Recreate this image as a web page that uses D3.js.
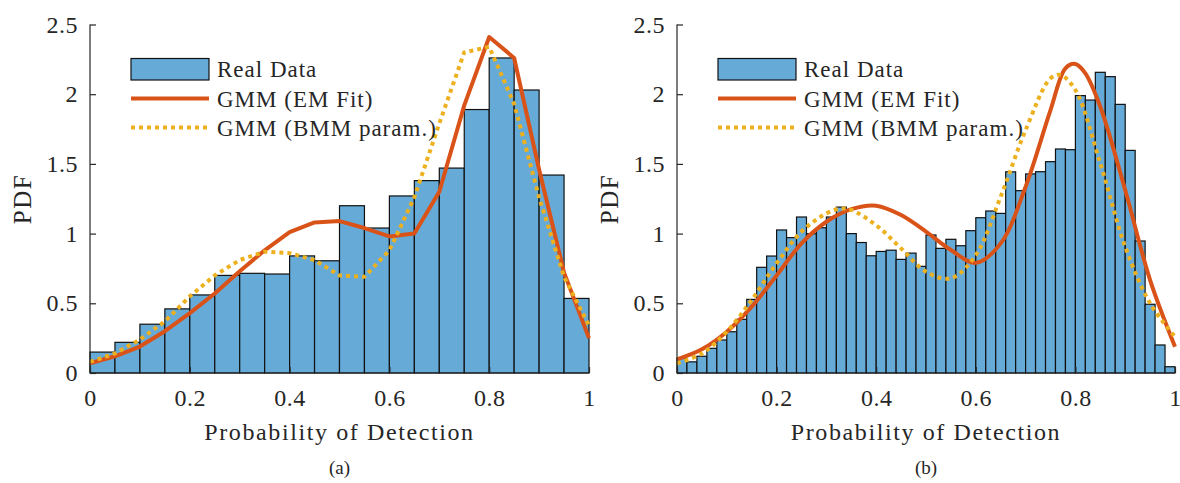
<!DOCTYPE html>
<html>
<head>
<meta charset="utf-8">
<script src="https://cdn.jsdelivr.net/npm/d3@7"></script>
<style>
  html, body { margin: 0; padding: 0; background: #fff; }
  svg text { font-family: "Liberation Serif", serif; fill: #262626; }
</style>
</head>
<body>
<svg id="chart" width="1180" height="483"></svg>
<script>
// ---------- data ----------
const yTicks = [0, 0.5, 1, 1.5, 2, 2.5];
const xTicks = [0, 0.2, 0.4, 0.6, 0.8, 1];
const legendLabels = ["Real Data", "GMM (EM Fit)", "GMM (BMM param.)"];
const xTitle = "Probability of Detection";
const yTitle = "PDF";
const panelLabels = ["(a)", "(b)"];

// panel (a): 20 bins of width 0.05
const histA = [0.15, 0.22, 0.35, 0.46, 0.56, 0.70, 0.715, 0.71, 0.84, 0.805,
               1.20, 1.04, 1.27, 1.38, 1.47, 1.89, 2.26, 2.03, 1.42, 0.535];
const emXA  = [0, 0.05, 0.1, 0.15, 0.2, 0.25, 0.3, 0.35, 0.4, 0.45, 0.5, 0.55, 0.6, 0.65, 0.7, 0.75, 0.8, 0.85, 0.9, 0.95, 1];
const emYA  = [0.07, 0.12, 0.19, 0.30, 0.43, 0.57, 0.73, 0.88, 1.01, 1.08, 1.09, 1.04, 0.98, 1.00, 1.30, 1.92, 2.41, 2.26, 1.46, 0.72, 0.25];
const bmmXA = [0, 0.05, 0.1, 0.15, 0.2, 0.25, 0.3, 0.35, 0.4, 0.45, 0.5, 0.55, 0.6, 0.65, 0.7, 0.75, 0.8, 0.85, 0.9, 0.95, 1];
const bmmYA = [0.08, 0.14, 0.24, 0.37, 0.55, 0.70, 0.81, 0.87, 0.86, 0.81, 0.70, 0.69, 0.88, 1.26, 1.79, 2.30, 2.34, 1.93, 1.26, 0.69, 0.34];

// panel (b): 50 bins of width 0.02
const histB = [0.105, 0.08, 0.12, 0.177, 0.237, 0.296, 0.385, 0.528, 0.758, 0.839,
               1.026, 0.971, 1.119, 0.999, 1.042, 1.119, 1.19, 1.0, 0.936, 0.841,
               0.872, 0.881, 0.815, 0.86, 0.765, 0.99, 0.894, 0.959, 0.913, 1.021,
               1.114, 1.162, 1.145, 1.443, 1.308, 1.428, 1.444, 1.516, 1.607, 1.602,
               1.99, 1.958, 2.157, 2.126, 1.927, 1.597, 0.947, 0.493, 0.201, 0.045];
const emXB  = [0, 0.05, 0.1, 0.15, 0.2, 0.25, 0.3, 0.35, 0.4, 0.45, 0.5, 0.55, 0.6, 0.65, 0.7, 0.75, 0.78, 0.8, 0.82, 0.85, 0.9, 0.95, 1];
const emYB  = [0.098, 0.17, 0.296, 0.476, 0.70, 0.93, 1.085, 1.175, 1.20, 1.133, 1.014, 0.882, 0.79, 0.93, 1.336, 1.886, 2.186, 2.217, 2.15, 1.91, 1.313, 0.667, 0.189];
const bmmXB = [0, 0.05, 0.1, 0.15, 0.2, 0.25, 0.3, 0.33, 0.35, 0.4, 0.45, 0.5, 0.55, 0.6, 0.65, 0.7, 0.75, 0.77, 0.8, 0.85, 0.9, 0.95, 1];
const bmmYB = [0.07, 0.14, 0.296, 0.524, 0.787, 1.014, 1.145, 1.18, 1.17, 1.06, 0.894, 0.727, 0.679, 0.846, 1.265, 1.743, 2.114, 2.138, 2.03, 1.504, 0.906, 0.5, 0.26];

// ---------- styling ----------
const barFill = "#66aad7";
const emColor = "#d95319";
const bmmColor = "#edb120";
const axisColor = "#262626";
const serif = "'Liberation Serif', serif";

const svg = d3.select("#chart");

const panels = [
  { left: 90,  right: 589,  hist: histA, emX: emXA, emY: emYA, bX: bmmXA, bY: bmmYA, curve: d3.curveLinear, label: panelLabels[0] },
  { left: 677, right: 1175, hist: histB, emX: emXB, emY: emYB, bX: bmmXB, bY: bmmYB, curve: d3.curveCatmullRom, label: panelLabels[1] }
];
const plotTop = 24.5, plotBottom = 373;

panels.forEach(p => {
  const g = svg.append("g");
  const x = d3.scaleLinear().domain([0, 1]).range([p.left, p.right]);
  const y = d3.scaleLinear().domain([0, 2.5]).range([plotBottom, plotTop]);
  const n = p.hist.length;
  const w = 1 / n;

  // bars
  g.append("g").selectAll("rect").data(p.hist).join("rect")
    .attr("x", (d, i) => x(i * w))
    .attr("width", (d, i) => x((i + 1) * w) - x(i * w))
    .attr("y", d => y(d))
    .attr("height", d => y(0) - y(d))
    .attr("fill", barFill)
    .attr("stroke", "#111")
    .attr("stroke-width", 1.2);

  // lines
  const emData = p.emX.map((v, i) => [v, p.emY[i]]);
  const bData = p.bX.map((v, i) => [v, p.bY[i]]);
  const line = d3.line().x(d => x(d[0])).y(d => y(d[1])).curve(p.curve);
  g.append("path").datum(emData).attr("d", line)
    .attr("fill", "none").attr("stroke", emColor).attr("stroke-width", 4).attr("stroke-linejoin", "round");
  g.append("path").datum(bData).attr("d", line)
    .attr("fill", "none").attr("stroke", bmmColor).attr("stroke-width", 4).attr("stroke-dasharray", "4,4");

  // axes
  const ya = g.append("g").attr("transform", `translate(${p.left},0)`)
    .call(d3.axisLeft(y).tickValues(yTicks).tickSize(-6).tickPadding(12).tickFormat(d3.format("~g")));
  const xa = g.append("g").attr("transform", `translate(0,${plotBottom})`)
    .call(d3.axisBottom(x).tickValues(xTicks).tickSize(-6).tickPadding(16).tickFormat(d3.format("~g")));
  [ya, xa].forEach(a => {
    a.attr("font-family", null);
    a.select(".domain").attr("stroke", axisColor).attr("stroke-width", 1.2);
    a.selectAll(".tick line").attr("stroke", axisColor).attr("stroke-width", 1.2);
    a.selectAll(".tick text").attr("font-size", 24).attr("fill", axisColor)
      .style("font-family", serif).style("letter-spacing", "0.5px");
  });
  ya.select(".domain").attr("d", `M0,${plotBottom}V${plotTop}`);
  xa.select(".domain").attr("d", `M${p.left},0H${p.right}`);

  // titles
  g.append("text").attr("x", (p.left + p.right) / 2).attr("y", 439.5)
    .attr("text-anchor", "middle").attr("font-size", 24)
    .style("font-family", serif).style("letter-spacing", "1.6px").text(xTitle);
  g.append("text").attr("transform", `translate(${p.left - 59},199) rotate(-90)`)
    .attr("text-anchor", "middle").attr("font-size", 25)
    .style("font-family", serif).style("letter-spacing", "1.5px").text(yTitle);
  g.append("text").attr("x", (p.left + p.right) / 2).attr("y", 474)
    .attr("text-anchor", "middle").attr("font-size", 19)
    .style("font-family", serif).text(p.label);

  // legend
  const lx = p.left + 41, lw = 78, tx = lx + 86;
  const rows = [69, 98.5, 127.5];
  const lg = g.append("g");
  lg.append("rect").attr("x", lx).attr("y", 58.5).attr("width", lw).attr("height", 21.5)
    .attr("fill", barFill).attr("stroke", "#111").attr("stroke-width", 1.2);
  lg.append("line").attr("x1", lx).attr("x2", lx + lw).attr("y1", rows[1]).attr("y2", rows[1])
    .attr("stroke", emColor).attr("stroke-width", 4);
  lg.append("line").attr("x1", lx).attr("x2", lx + lw).attr("y1", rows[2]).attr("y2", rows[2])
    .attr("stroke", bmmColor).attr("stroke-width", 4).attr("stroke-dasharray", "4,4");
  lg.selectAll("text.leg").data(legendLabels).join("text").attr("class", "leg")
    .attr("x", tx).attr("y", (d, i) => rows[i] + 8)
    .attr("font-size", 23).style("font-family", serif).style("letter-spacing", "1px").text(d => d);
});
</script>
</body>
</html>
